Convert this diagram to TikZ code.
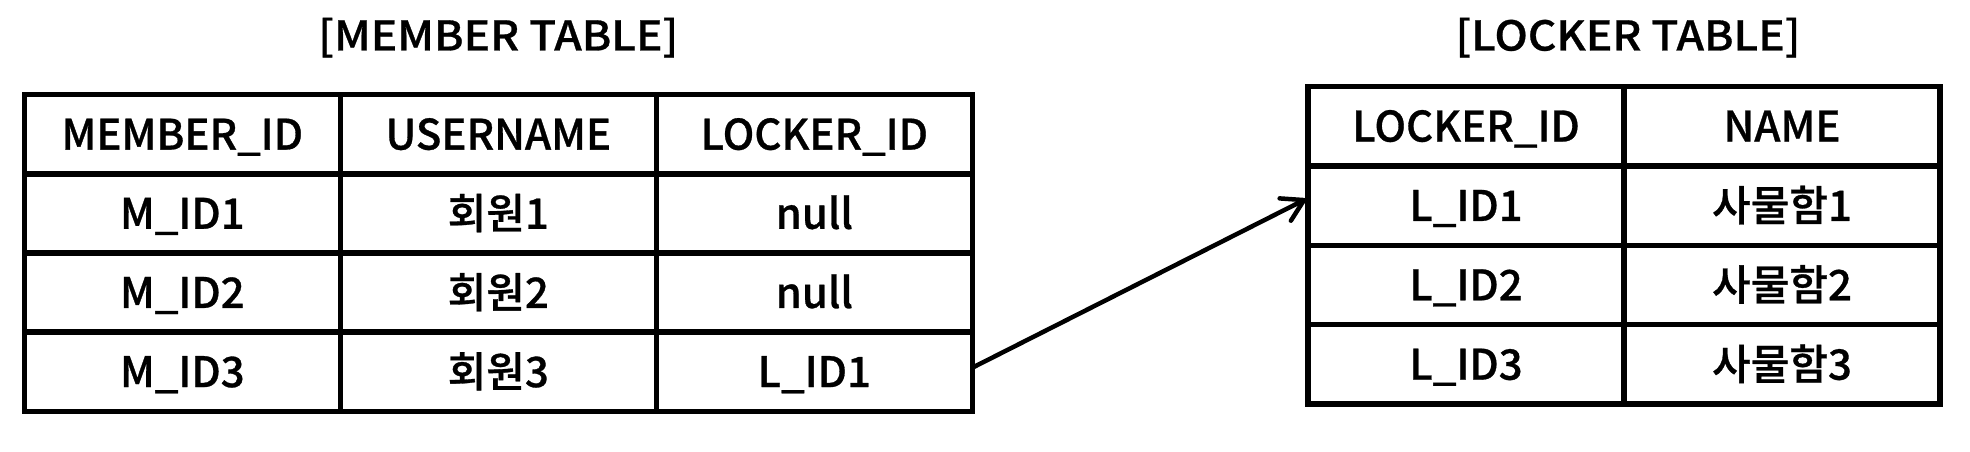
\documentclass[tikz,border=0pt]{standalone}
\usepackage{fontspec}
\newfontfamily\kr{Noto Sans CJK KR Medium}[FakeBold=0.7]
\newfontfamily\krw{Noto Sans CJK KR Medium}[FakeStretch=1.08,FakeBold=0.7]
\usetikzlibrary{arrows.meta}
\begin{document}
\begin{tikzpicture}[x=1pt,y=-1pt,
  cell/.style={draw,line width=5.5pt,outer sep=0pt,minimum width=316pt,minimum height=79.15pt,inner sep=0pt,
    font=\kr\fontsize{42}{48}\selectfont,text height=30.7pt,text depth=0pt,anchor=north west},
  rcell/.style={cell,minimum height=79.375pt},
  title/.style={font=\krw\fontsize{41}{48}\selectfont,text height=30pt,text depth=0pt,inner sep=0pt},
  link/.style={line width=4.5pt,line cap=round,-{Straight Barb[length=21pt,width=25pt,line width=4.5pt,round]}}]
\useasboundingbox (0,0) rectangle (1970,452);
\node[title] (t1) at (498.3,35.5) {[MEMBER TABLE]};
\node[title] (t2) at (1628,35.5) {[LOCKER TABLE]};
% member table
\node[cell] (m11) at (24.3,94.7) {MEMBER\_ID};
\node[cell] (m12) at (340.3,94.7) {USERNAME};
\node[cell] (m13) at (656.3,94.7) {LOCKER\_ID};
\node[cell] (m21) at (24.3,173.85) {M\_ID1};
\node[cell] (m22) at (340.3,173.85) {회원1};
\node[cell] (m23) at (656.3,173.85) {null};
\node[cell] (m31) at (24.3,253) {M\_ID2};
\node[cell] (m32) at (340.3,253) {회원2};
\node[cell] (m33) at (656.3,253) {null};
\node[cell] (m41) at (24.3,332.15) {M\_ID3};
\node[cell] (m42) at (340.3,332.15) {회원3};
\node[cell] (m43) at (656.3,332.15) {L\_ID1};
% locker table
\node[rcell] (l01) at (1308,86.5) {LOCKER\_ID};
\node[rcell] (l02) at (1624,86.5) {NAME};
\node[rcell] (l11) at (1308,165.875) {L\_ID1};
\node[rcell] (l12) at (1624,165.875) {사물함1};
\node[rcell] (l21) at (1308,245.25) {L\_ID2};
\node[rcell] (l22) at (1624,245.25) {사물함2};
\node[rcell] (l31) at (1308,324.625) {L\_ID3};
\node[rcell] (l32) at (1624,324.625) {사물함3};
\draw[link] ([yshift=4pt]m43.east) -- ([xshift=-2pt,yshift=6.5pt]l11.west);
\end{tikzpicture}
\end{document}
